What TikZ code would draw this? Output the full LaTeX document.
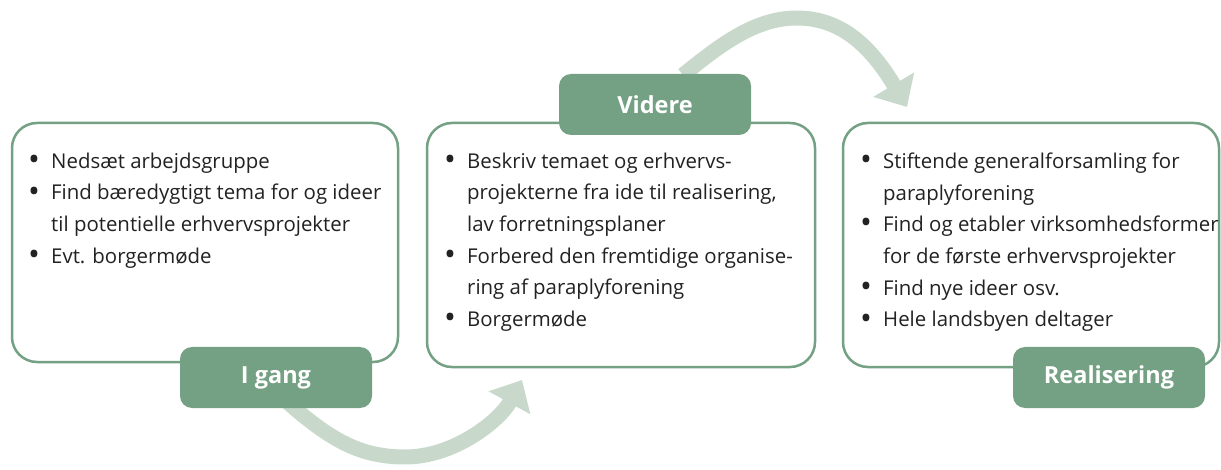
\documentclass[tikz,border=0pt]{standalone}
\usepackage{fontspec}
\usepackage{graphicx}
\setmainfont{Open Sans}
\usetikzlibrary{arrows.meta}
\definecolor{gr}{HTML}{74A083}
\definecolor{lgr}{HTML}{C8D9CC}
\definecolor{txt}{HTML}{222222}
\newcommand{\itm}{\makebox[23pt][l]{\raisebox{-2.2pt}{\scalebox{1.55}{\textbullet}}}}
\newcommand{\cnt}{\hspace*{23pt}}
\begin{document}
\begin{tikzpicture}[x=1pt,y=-1pt,
  box/.style={draw=gr, line width=2.5pt, rounded corners=25pt, fill=white},
  lab/.style={fill=gr, rounded corners=12pt, minimum width=192pt, minimum height=61pt, text=white, font=\fontsize{23.5}{28}\selectfont\bfseries, inner sep=0pt},
  body/.style={anchor=north west, align=left, inner sep=0pt, text=txt, font=\fontsize{20.4}{31.7}\selectfont},
  flow/.style={draw=lgr, line width=15pt, -{Triangle[width=46pt,length=26pt]}}]
\useasboundingbox (0,0) rectangle (1221,470);
% boxes
\draw[box] (12,123) rectangle (398,362);
\draw[box] (427,123) rectangle (815,367);
\draw[box] (843,123) rectangle (1219,367);
% arrows
\coordinate (a1s) at (285,400);
\coordinate (a1m) at (405,457);
\coordinate (a1e) at (522,380);
\coordinate (a2s) at (683,75);
\coordinate (a2m) at (797,18);
\coordinate (a2e) at (907,107);
\draw[flow] (a1s) .. controls (330,440) and (360,457) .. (a1m) .. controls (455,457) and (500,420) .. (a1e);
\draw[flow] (a2s) .. controls (720,45) and (755,18) .. (a2m) .. controls (840,18) and (870,45) .. (a2e);
% labels
\node[lab] (ig) at (276,377.5) {I gang};
\node[lab] (vi) at (655,104.5) {Videre};
\node[lab] (re) at (1109,377.5) {Realisering};
% texts
\node[body] (t1) at (28,152.5) {\itm Nedsæt arbejdsgruppe\\ \itm Find bæredygtigt tema for og ideer\\ \cnt til potentielle erhvervsprojekter\\ \itm Evt. borgermøde};
\node[body] (t2) at (444,152.5) {\itm Beskriv temaet og erhvervs-\\ \cnt projekterne fra ide til realisering,\\ \cnt lav forretningsplaner\\ \itm Forbered den fremtidige organise-\\ \cnt ring af paraplyforening\\ \itm Borgermøde};
\node[body] (t3) at (860,152.5) {\itm Stiftende generalforsamling for\\ \cnt paraplyforening\\ \itm Find og etabler virksomhedsformer\\ \cnt for de første erhvervsprojekter\\ \itm Find nye ideer osv.\\ \itm Hele landsbyen deltager};
\end{tikzpicture}
\end{document}
